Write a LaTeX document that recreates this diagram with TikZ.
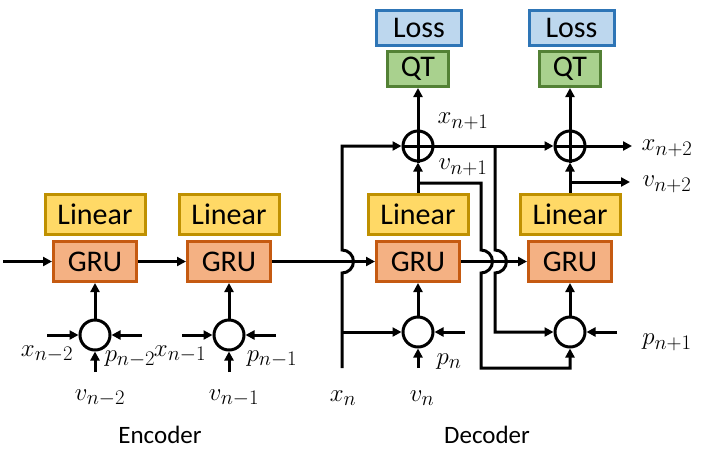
\documentclass[tikz,border=0pt]{standalone}
\usepackage{fontspec}
\setmainfont{Carlito}
\usetikzlibrary{arrows.meta}
\definecolor{linfill}{HTML}{FFD966}
\definecolor{lindraw}{HTML}{BF9000}
\definecolor{grufill}{HTML}{F4B183}
\definecolor{grudraw}{HTML}{C55A11}
\definecolor{lossfill}{HTML}{BDD7EE}
\definecolor{lossdraw}{HTML}{2E75B6}
\definecolor{qtfill}{HTML}{A9D18E}
\definecolor{qtdraw}{HTML}{538135}
\begin{document}
\begin{tikzpicture}[x=1pt,y=-1pt,line width=3pt,
  >={Triangle[length=9pt,width=9pt]},
  boxtext/.style={draw,inner sep=0pt,line width=3pt,font=\fontsize{30}{30}\selectfont},
  linbox/.style={boxtext,fill=linfill,draw=lindraw,minimum width=100pt,minimum height=40pt},
  grubox/.style={boxtext,fill=grufill,draw=grudraw,minimum width=83pt,minimum height=40pt},
  lossbox/.style={boxtext,fill=lossfill,draw=lossdraw,minimum width=85pt,minimum height=35pt},
  qtbox/.style={boxtext,fill=qtfill,draw=qtdraw,minimum width=61pt,minimum height=35pt},
  merge/.style={circle,draw,fill=white,minimum size=30pt,inner sep=0pt},
  lbl/.style={inner sep=0pt,font=\fontsize{28}{28}\selectfont},
  captext/.style={inner sep=0pt,font=\fontsize{25}{25}\selectfont}]
\useasboundingbox (0,0) rectangle (706,456);
% encoder
\node[linbox] (l1) at (95,214) {Linear};
\node[grubox] (g1) at (95,261.5) {GRU};
\node[linbox] (l2) at (229,214) {Linear};
\node[grubox] (g2) at (229,261.5) {GRU};
\node[merge] (c1) at (95,335) {};
\node[merge] (c2) at (229,335) {};
% decoder
\node[linbox] (l3) at (418,214) {Linear};
\node[grubox] (g3) at (418,261.5) {GRU};
\node[linbox] (l4) at (570,214) {Linear};
\node[grubox] (g4) at (570,261.5) {GRU};
\node[merge] (c3) at (418,332) {};
\node[merge] (c4) at (570,332) {};
\node[merge] (o1) at (418,146) {};
\node[merge] (o2) at (570,146) {};
\draw (o1.north) -- (o1.south) (o1.west) -- (o1.east);
\draw (o2.north) -- (o2.south) (o2.west) -- (o2.east);
\node[lossbox] (ls1) at (419,28) {Loss};
\node[qtbox] (q1) at (418,69) {QT};
\node[lossbox] (ls2) at (571.5,28) {Loss};
\node[qtbox] (q2) at (570,69) {QT};
% free ends
\coordinate (in) at (3,261.5);
\coordinate (xnb) at (342,368);
\coordinate (bot) at (0,368);
\coordinate (e1l) at (47,335);
\coordinate (e1r) at (142,335);
\coordinate (e1b) at (95,372);
\coordinate (e2l) at (182,335);
\coordinate (e2r) at (276,335);
\coordinate (e2b) at (229,372);
\coordinate (pn) at (465,332);
\coordinate (pn1) at (617,332);
\coordinate (xo) at (632,146);
\coordinate (vo) at (630,182);
\coordinate (vb) at (481,183);
\coordinate (xb) at (495,146);
% encoder connectors
\draw[->] (in) -- (g1.west);
\draw[->] (g1.east) -- (g2.west);
\draw[->] (g2.east) -- (g3.west);
\draw[->] (g3.east) -- (g4.west);
\draw[->] (c1.north) -- (g1.south);
\draw[->] (c2.north) -- (g2.south);
\draw[->] (e1l) -- (c1.west);
\draw[->] (e1r) -- (c1.east);
\draw[->] (e1b) -- (c1.south);
\draw[->] (e2l) -- (c2.west);
\draw[->] (e2r) -- (c2.east);
\draw[->] (e2b) -- (c2.south);
% decoder connectors
\draw[->] (xnb) -- (342,273) arc[start angle=90,end angle=-90,radius=11.5] -- (342,250) |- (o1.west);
\draw[->] (c3.west -| xnb) -- (c3.west);
\draw[->] (c3.south |- bot) -- (c3.south);
\draw[->] (pn) -- (c3.east);
\draw[->] (c3.north) -- (g3.south);
\draw[->] (l3.north) -- (o1.south);
\draw[->] (l3.north |- vb) -- (vb) -- (481,250) arc[start angle=-90,end angle=90,radius=11.5] -- (481,368) -| (c4.south);
\draw[->] (o1.east) -- (o2.west);
\draw[->] (xb) -- (495,250) arc[start angle=-90,end angle=90,radius=11.5] |- (c4.west);
\draw[->] (pn1) -- (c4.east);
\draw[->] (c4.north) -- (g4.south);
\draw[->] (l4.north) -- (o2.south);
\draw[->] (l4.north |- vo) -- (vo);
\draw[->] (o2.east) -- (xo);
\draw[->] (o1.north) -- (q1.south);
\draw[->] (o2.north) -- (q2.south);
% labels
\node[lbl] (t1) at (47,354) {$x_{n-2}$};
\node[lbl] (t2) at (130,359) {$p_{n-2}$};
\node[lbl] (t3) at (100,398) {$v_{n-2}$};
\node[lbl] (t4) at (180,354) {$x_{n-1}$};
\node[lbl] (t5) at (272,359) {$p_{n-1}$};
\node[lbl] (t6) at (234,398) {$v_{n-1}$};
\node[lbl] (t7) at (343,398) {$x_n$};
\node[lbl] (t8) at (422,398) {$v_n$};
\node[lbl] (t9) at (449,362) {$p_n$};
\node[lbl] (t10) at (463,121) {$x_{n+1}$};
\node[lbl] (t11) at (463,167) {$v_{n+1}$};
\node[lbl] (t12) at (667,148) {$x_{n+2}$};
\node[lbl] (t13) at (667,184) {$v_{n+2}$};
\node[lbl] (t14) at (667,342) {$p_{n+1}$};
\node[captext] (enc) at (160,435) {Encoder};
\node[captext] (dec) at (487,435) {Decoder};
\end{tikzpicture}
\end{document}
